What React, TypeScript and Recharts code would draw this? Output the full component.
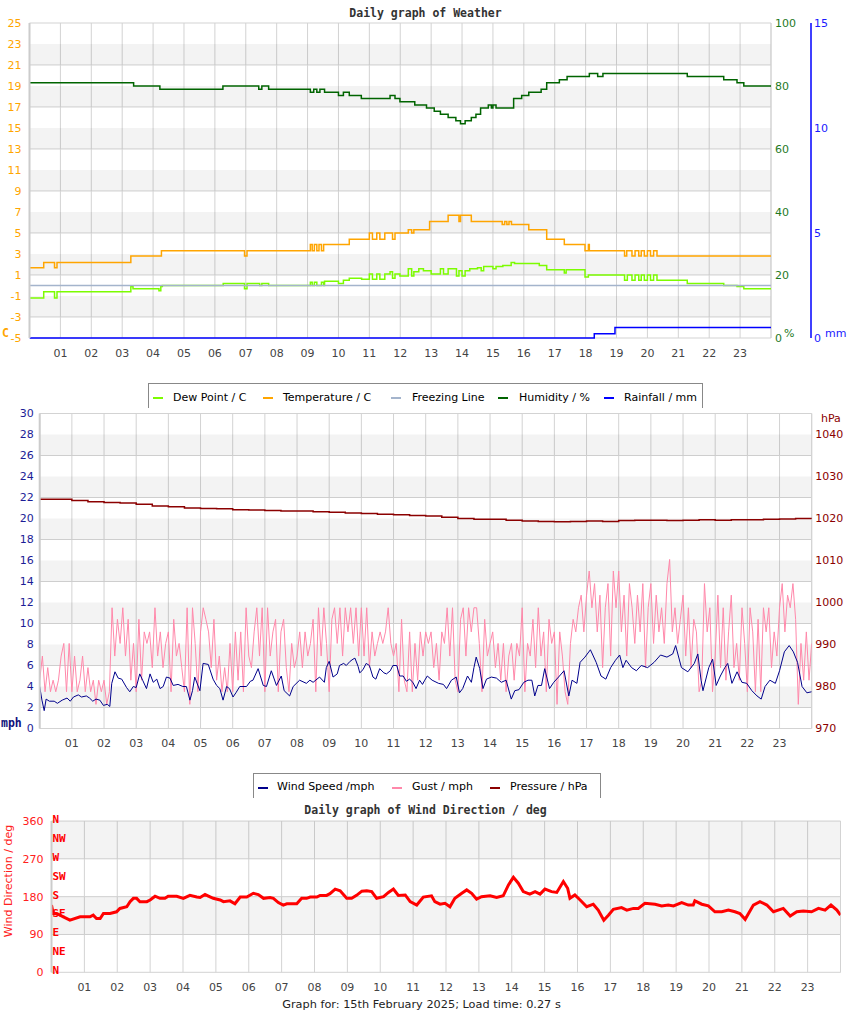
import React from 'react';
import { LineChart, Line, XAxis, YAxis, CartesianGrid, ReferenceLine, ReferenceArea } from 'recharts';

type Pt = [number, number];

const hourTicks = [1, 2, 3, 4, 5, 6, 7, 8, 9, 10, 11, 12, 13, 14, 15, 16, 17, 18, 19, 20, 21, 22, 23];
const tempTicks = [-5, -3, -1, 1, 3, 5, 7, 9, 11, 13, 15, 17, 19, 21, 23, 25];
const humTicks = [0, 20, 40, 60, 80, 100];
const rainTicks = [0, 5, 10, 15];
const speedTicks = [0, 2, 4, 6, 8, 10, 12, 14, 16, 18, 20, 22, 24, 26, 28, 30];
const pressTicks = [970, 980, 990, 1000, 1010, 1020, 1030, 1040];
const dirTicks = [0, 90, 180, 270, 360];
const compassTicks = [0, 45, 90, 135, 180, 225, 270, 315, 360];
const compassNames = ['N', 'NE', 'E', 'SE', 'S', 'SW', 'W', 'NW', 'N'];

// shaded bands of each panel
const tempBands: Pt[] = [[-3, -1], [1, 3], [5, 7], [9, 11], [13, 15], [17, 19], [21, 23]];
const speedBands: Pt[] = [[2, 4], [6, 8], [10, 12], [14, 16], [18, 20], [22, 24], [26, 28]];
const dirBands: Pt[] = [[90, 180], [270, 360]];

// step series: [hour, value] at each change
const humidity: Pt[] = [
  [0, 81], [3.37, 80], [4.22, 79], [6.26, 80], [7.42, 79], [7.52, 80], [7.74, 79], [9.09, 78], [9.2, 79],
  [9.3, 78], [9.4, 79], [9.55, 78], [10, 77], [10.16, 78], [10.35, 77], [10.74, 76], [11.67, 77], [11.83, 76],
  [11.99, 75], [12.47, 74], [12.85, 73], [13.1, 72], [13.3, 71], [13.55, 70], [13.8, 69], [13.95, 68],
  [14.1, 69], [14.3, 70], [14.45, 71], [14.6, 73], [14.85, 74], [14.95, 73], [15.0, 74], [15.1, 73],
  [15.67, 76], [15.93, 77], [16.16, 78], [16.56, 79], [16.74, 81], [17.15, 82], [17.4, 83], [18.12, 84],
  [18.39, 83], [18.56, 84], [21.29, 83], [22.47, 82], [22.9, 81], [23.12, 80], [24, 80],
];

const temperature: Pt[] = [
  [0, 1.7], [0.46, 2.2], [0.81, 1.7], [0.89, 2.2], [3.28, 2.8], [4.27, 3.3], [6.96, 2.8], [7.04, 3.3],
  [9.09, 3.9], [9.15, 3.3], [9.22, 3.9], [9.3, 3.3], [9.37, 3.9], [9.45, 3.3], [9.52, 3.9], [10.35, 4.4],
  [11.0, 5.0], [11.1, 4.4], [11.24, 5.0], [11.34, 4.4], [11.5, 5.0], [11.75, 4.4], [11.83, 5.0],
  [12.26, 5.3], [12.37, 5.0], [12.44, 5.3], [12.95, 6.1], [13.55, 6.7], [13.9, 6.1], [13.95, 6.7],
  [14.3, 6.1], [15.3, 5.8], [15.38, 6.1], [15.45, 5.8], [15.52, 6.1], [15.6, 5.8], [16.16, 5.3],
  [16.74, 4.4], [17.31, 3.9], [17.98, 3.3], [18.09, 3.9], [18.12, 3.3], [19.26, 2.8], [19.33, 3.3],
  [19.5, 2.8], [19.6, 3.3], [19.72, 2.8], [19.8, 3.3], [19.9, 2.8], [20.0, 3.3], [20.1, 2.8], [20.2, 3.3],
  [20.31, 2.8], [24, 2.8],
];

const dewPoint: Pt[] = [
  [0, -1.2], [0.46, -0.6], [0.81, -1.2], [0.89, -0.6], [3.28, -0.1], [3.35, -0.3], [4.19, -0.5], [4.25, -0.1],
  [4.3, 0], [6.27, 0.2], [6.96, -0.3], [7.04, 0.2], [7.45, 0], [7.52, 0.2], [7.74, 0], [9.09, 0.3], [9.15, 0],
  [9.22, 0.3], [9.3, 0], [9.45, 0.3], [9.52, 0], [9.55, 0.4], [10.0, 0.2], [10.16, 0.5], [10.35, 0.7],
  [10.75, 0.6], [11.0, 1.1], [11.1, 0.6], [11.24, 1.1], [11.34, 0.6], [11.5, 1.1], [11.67, 1.3], [11.75, 0.7],
  [11.83, 1.1], [11.99, 0.9], [12.26, 1.6], [12.37, 0.9], [12.44, 1.3], [12.6, 1.6], [12.75, 1.4], [13.0, 1.1],
  [13.3, 1.6], [13.4, 1.1], [13.55, 1.6], [13.82, 0.9], [13.9, 1.4], [14.0, 0.9], [14.1, 1.4], [14.25, 1.6],
  [14.5, 1.7], [14.62, 1.4], [14.7, 1.8], [15.0, 1.6], [15.1, 1.8], [15.32, 1.9], [15.59, 2.2], [15.7, 2.1],
  [16.5, 1.9], [16.74, 1.5], [17.31, 1.2], [17.37, 1.5], [17.98, 0.8], [18.09, 1.0], [19.26, 0.5], [19.35, 1.0],
  [19.5, 0.5], [19.6, 1.0], [19.72, 0.5], [19.8, 1.0], [19.9, 0.5], [20.0, 1.0], [20.1, 0.5], [20.2, 1.0],
  [20.31, 0.5], [21.29, 0.2], [22.47, 0], [22.9, -0.1], [23.12, -0.3], [24, -0.3],
];

const freezing: Pt[] = [[0, 0], [24, 0]];
const rainfall: Pt[] = [[0, 0], [18.28, 0.2], [18.95, 0.5], [24, 0.5]];

const windSpeed: Pt[] = [
  [0, 4.0], [0.07, 2.7], [0.14, 1.7], [0.2, 2.8], [0.3, 2.6], [0.45, 2.6], [0.55, 2.4], [0.7, 2.7], [0.85, 2.9],
  [0.95, 2.6], [1.05, 3.0], [1.2, 3.2], [1.3, 3.0], [1.45, 3.1], [1.55, 2.9], [1.65, 2.6], [1.75, 2.8], [1.87, 2.7],
  [1.98, 2.2], [2.1, 2.3], [2.18, 2.1], [2.24, 4.3], [2.34, 5.4], [2.44, 4.8], [2.55, 4.7], [2.7, 3.9], [2.8, 3.5],
  [2.91, 4.0], [3.0, 3.9], [3.11, 5.2], [3.2, 4.6], [3.32, 3.8], [3.43, 5.2], [3.53, 4.4], [3.64, 4.7], [3.74, 3.8],
  [3.84, 4.0], [3.94, 4.9], [4.05, 4.8], [4.15, 4.1], [4.3, 4.2], [4.45, 4.0], [4.56, 4.0], [4.67, 2.7], [4.75, 3.6],
  [4.82, 4.9], [4.98, 3.6], [5.08, 6.2], [5.24, 6.1], [5.39, 4.7], [5.5, 4.1], [5.6, 3.8], [5.7, 2.7], [5.81, 4.0],
  [5.9, 3.8], [6.01, 3.0], [6.1, 3.4], [6.22, 4.0], [6.43, 4.0], [6.55, 4.5], [6.63, 4.6], [6.79, 5.7], [6.95, 4.1],
  [7.05, 4.0], [7.2, 5.5], [7.36, 4.1], [7.51, 5.0], [7.6, 3.6], [7.77, 3.1], [7.88, 4.0], [8.08, 4.6], [8.29, 4.3],
  [8.4, 4.6], [8.5, 4.4], [8.7, 4.9], [8.85, 4.4], [8.91, 5.8], [9.0, 6.4], [9.12, 4.9], [9.25, 5.2], [9.32, 6.0],
  [9.45, 6.2], [9.53, 6.0], [9.65, 6.4], [9.74, 6.6], [9.8, 6.7], [9.9, 5.9], [9.95, 5.3], [10.05, 5.6], [10.15, 6.2],
  [10.25, 6.0], [10.36, 4.9], [10.45, 4.7], [10.57, 5.7], [10.7, 5.3], [10.78, 5.2], [10.9, 5.5], [10.98, 6.0],
  [11.1, 6.0], [11.19, 5.0], [11.3, 5.0], [11.4, 4.5], [11.5, 4.7], [11.6, 4.4], [11.7, 3.8], [11.81, 4.6],
  [11.9, 4.2], [11.97, 4.6], [12.05, 5.0], [12.2, 4.6], [12.4, 4.3], [12.55, 4.2], [12.65, 3.8], [12.8, 4.6],
  [12.95, 4.9], [13.05, 3.4], [13.15, 3.8], [13.3, 5.0], [13.42, 4.4], [13.5, 5.8], [13.57, 6.8], [13.68, 5.7],
  [13.78, 3.8], [13.89, 4.7], [14.04, 4.9], [14.2, 4.8], [14.35, 4.4], [14.5, 4.6], [14.66, 2.8], [14.77, 3.6],
  [14.9, 3.7], [15.05, 4.4], [15.18, 4.6], [15.3, 4.6], [15.39, 3.1], [15.49, 4.1], [15.6, 4.1], [15.7, 5.7],
  [15.85, 3.8], [15.98, 4.4], [16.13, 4.9], [16.3, 5.5], [16.45, 3.1], [16.55, 4.6], [16.7, 4.3], [16.8, 6.3],
  [16.95, 6.8], [17.12, 7.5], [17.3, 6.3], [17.45, 5.0], [17.6, 4.7], [17.75, 5.8], [17.9, 6.5], [18.03, 7.0],
  [18.13, 5.8], [18.23, 6.5], [18.4, 5.8], [18.55, 5.5], [18.7, 6.0], [18.9, 5.8], [19.1, 6.3], [19.3, 7.0],
  [19.5, 6.8], [19.68, 7.1], [19.77, 7.9], [19.95, 5.8], [20.15, 5.4], [20.35, 6.2], [20.46, 7.1], [20.56, 4.6],
  [20.62, 3.6], [20.8, 5.8], [20.92, 6.6], [21.03, 4.1], [21.16, 5.0], [21.3, 5.8], [21.39, 6.2], [21.52, 4.3],
  [21.68, 5.4], [21.83, 4.4], [21.98, 4.3], [22.14, 3.6], [22.3, 3.1], [22.43, 2.8], [22.55, 4.0], [22.7, 4.6],
  [22.87, 4.3], [23.0, 5.5], [23.15, 7.3], [23.3, 7.9], [23.43, 7.3], [23.56, 6.3], [23.7, 4.0], [23.85, 3.4],
  [24.0, 3.5],
];

// gust every 5 minutes, mph (one row per hour)
const gust: number[] = [
  4.6, 6.9, 3.5, 5.8, 3.5, 4.6, 3.5, 4.6, 6.9, 8.1, 3.5, 8.1,
  3.5, 6.9, 3.5, 4.6, 6.9, 3.5, 5.8, 3.5, 4.6, 2.3, 4.6, 3.5,
  4.6, 2.3, 3.5, 11.5, 6.9, 10.4, 8.1, 11.5, 6.9, 10.4, 4.6, 8.1,
  3.5, 10.4, 4.6, 9.2, 8.1, 9.2, 5.8, 11.5, 6.9, 9.2, 5.8, 8.1,
  9.2, 3.5, 10.4, 6.9, 8.1, 5.8, 3.5, 11.5, 2.3, 11.5, 8.1, 3.5,
  9.2, 11.5, 10.4, 9.2, 5.8, 10.4, 4.6, 6.9, 3.5, 5.8, 3.5, 8.1,
  3.5, 9.2, 4.6, 9.2, 3.5, 11.5, 6.9, 5.8, 9.2, 11.5, 6.9, 11.5,
  3.5, 11.5, 6.9, 9.2, 10.4, 3.5, 9.2, 10.4, 5.8, 3.5, 8.1, 5.8,
  6.9, 9.2, 5.8, 9.2, 6.9, 8.1, 10.4, 3.5, 11.5, 6.9, 11.5, 8.1,
  3.5, 10.4, 11.5, 8.1, 11.5, 6.9, 11.5, 9.2, 11.5, 8.1, 11.5, 6.9,
  11.5, 6.9, 11.5, 5.8, 9.2, 6.9, 8.1, 9.2, 8.1, 9.2, 11.5, 8.1,
  6.9, 8.1, 3.5, 10.4, 4.6, 3.5, 9.2, 3.5, 8.1, 4.6, 9.2, 6.9,
  9.2, 8.1, 9.2, 5.8, 8.1, 4.6, 9.2, 8.1, 11.5, 6.9, 11.5, 4.6,
  3.5, 10.4, 11.5, 6.9, 11.5, 9.2, 11.5, 11.5, 8.1, 3.5, 10.4, 6.9,
  8.1, 9.2, 5.8, 8.1, 4.6, 8.1, 3.5, 6.9, 8.1, 4.6, 8.1, 6.9,
  11.5, 3.5, 8.1, 6.9, 10.4, 5.8, 11.5, 6.9, 9.2, 3.5, 10.4, 8.1,
  9.2, 2.3, 9.2, 6.9, 3.5, 2.3, 8.1, 10.4, 9.2, 11.5, 12.7, 9.2,
  12.7, 15.0, 11.5, 13.8, 9.2, 12.7, 5.8, 11.5, 13.8, 6.9, 15.0, 11.5,
  15.0, 9.2, 12.7, 6.9, 13.8, 11.5, 8.1, 12.7, 9.2, 13.8, 5.8, 11.5,
  13.8, 8.1, 12.7, 9.2, 11.5, 8.1, 13.8, 16.1, 9.2, 11.5, 8.1, 10.4,
  12.7, 6.9, 11.5, 5.8, 10.4, 9.2, 3.5, 4.6, 13.8, 9.2, 11.5, 3.5,
  6.9, 12.7, 5.8, 11.5, 4.6, 9.2, 12.7, 5.8, 8.1, 4.6, 11.5, 8.1,
  3.5, 11.5, 9.2, 3.5, 10.4, 3.5, 11.5, 9.2, 11.5, 5.8, 9.2, 6.9,
  11.5, 13.8, 9.2, 12.7, 11.5, 13.8, 10.4, 2.3, 8.1, 4.6, 9.2, 4.6,
  8.1,
];

const pressure: Pt[] = [
  [0, 1024.6], [0.5, 1024.6], [1, 1024.3], [1.5, 1024.0], [2, 1023.8], [2.5, 1023.7], [3, 1023.4], [3.5, 1023.0],
  [4, 1022.8], [4.5, 1022.5], [5, 1022.4], [5.5, 1022.3], [6, 1022.1], [6.5, 1022.0], [7, 1021.9], [7.5, 1021.8],
  [8, 1021.8], [8.5, 1021.6], [9, 1021.5], [9.5, 1021.3], [10, 1021.2], [10.5, 1021.0], [11, 1020.9], [11.5, 1020.7],
  [12, 1020.6], [12.5, 1020.3], [13, 1020.0], [13.5, 1019.8], [14, 1019.8], [14.5, 1019.6], [15, 1019.4],
  [15.5, 1019.3], [16, 1019.2], [16.5, 1019.3], [17, 1019.4], [17.5, 1019.3], [18, 1019.5], [18.5, 1019.6],
  [19, 1019.6], [19.5, 1019.5], [20, 1019.6], [20.5, 1019.7], [21, 1019.6], [21.5, 1019.7], [22, 1019.7],
  [22.5, 1019.8], [23, 1019.9], [23.5, 1020.0], [24, 1019.9],
];

const windDir: Pt[] = [
  [0, 160], [0.05, 140], [0.16, 140], [0.36, 132], [0.56, 124], [0.87, 132], [1.17, 132], [1.27, 136], [1.37, 128],
  [1.48, 128], [1.58, 140], [1.78, 140], [1.98, 144], [2.08, 152], [2.29, 156], [2.39, 168], [2.49, 176], [2.59, 176],
  [2.69, 168], [2.9, 168], [3.0, 172], [3.15, 181], [3.3, 176], [3.45, 176], [3.55, 181], [3.81, 181], [4.01, 176],
  [4.21, 183], [4.42, 179], [4.52, 178], [4.67, 185], [4.92, 176], [5.13, 172], [5.23, 168], [5.43, 170], [5.58, 163],
  [5.74, 179], [5.94, 179], [6.14, 188], [6.29, 185], [6.45, 176], [6.65, 178], [6.75, 176], [6.9, 166], [7.05, 160],
  [7.16, 163], [7.46, 163], [7.61, 176], [7.76, 176], [7.87, 179], [8.07, 179], [8.17, 183], [8.37, 183], [8.47, 187],
  [8.63, 198], [8.78, 194], [8.98, 176], [9.13, 176], [9.28, 183], [9.44, 193], [9.59, 194], [9.74, 192], [9.89, 176],
  [10.1, 180], [10.25, 190], [10.4, 198], [10.55, 183], [10.76, 184], [10.91, 168], [11.11, 160], [11.31, 179],
  [11.56, 182], [11.66, 168], [11.82, 162], [11.97, 164], [12.12, 156], [12.27, 176], [12.48, 188], [12.63, 196],
  [12.78, 188], [12.93, 174], [13.08, 180], [13.34, 182], [13.54, 178], [13.74, 182], [13.9, 208], [14.05, 226],
  [14.2, 212], [14.35, 192], [14.55, 186], [14.71, 192], [14.86, 186], [15.01, 198], [15.21, 192], [15.37, 190],
  [15.57, 216], [15.7, 200], [15.77, 176], [15.92, 184], [16.08, 172], [16.28, 156], [16.48, 162], [16.63, 148],
  [16.8, 124], [16.94, 136], [17.09, 150], [17.34, 154], [17.5, 148], [17.7, 152], [17.85, 152], [18.05, 164],
  [18.36, 162], [18.56, 158], [18.76, 160], [18.92, 158], [19.17, 166], [19.37, 160], [19.52, 160], [19.57, 170],
  [19.78, 162], [19.98, 158], [20.18, 144], [20.39, 144], [20.59, 148], [20.79, 144], [20.94, 140], [21.1, 126],
  [21.35, 160], [21.55, 168], [21.76, 160], [21.96, 144], [22.26, 152], [22.47, 134], [22.67, 144], [22.87, 146],
  [23.12, 144], [23.33, 152], [23.53, 148], [23.71, 160], [23.89, 148], [24.0, 136],
];

const GRID = '#d3d3d3';
const MONO = '"DejaVu Sans Mono", monospace';

const rows = (pts: Pt[]) => pts.map(([h, v]) => ({ h, v }));
const gustRows = gust.map((v, i) => ({ h: i / 12, v }));
const fmtHour = (h: number) => String(h).padStart(2, '0');

const xAxisProps = {
  dataKey: 'h',
  type: 'number' as const,
  domain: [0, 24],
  ticks: hourTicks,
  tickFormatter: fmtHour,
  tickSize: 0,
  tickMargin: 11,
  axisLine: false,
  tick: { fill: '#444', fontSize: 11 },
  allowDataOverflow: true,
  height: 30,
};

const bands = (list: Pt[]) =>
  list.map(([a, b]) => (
    <ReferenceArea key={`b${a}`} y1={a} y2={b} fill="#000" fillOpacity={0.047} stroke="none" ifOverflow="visible" />
  ));

function WeatherChart() {
  return (
    <LineChart width={850} height={370} margin={{ top: 23, right: 0, bottom: 2, left: 0 }}>
      {bands(tempBands)}
      <CartesianGrid stroke={GRID} />
      <XAxis {...xAxisProps} />
      <YAxis domain={[-5, 25]} ticks={tempTicks} width={29.5} tickSize={0} tickMargin={8}
        axisLine={{ stroke: '#cccccc', strokeWidth: 2 }} tick={{ fill: '#ffa500', fontSize: 11 }} />
      <YAxis yAxisId="hum" orientation="right" domain={[0, 100]} ticks={humTicks} width={40} tickSize={0}
        tickMargin={4} axisLine={false} tick={{ fill: '#1f7a1f', fontSize: 11 }} />
      <YAxis yAxisId="rain" orientation="right" domain={[0, 15]} ticks={rainTicks} width={39} tickSize={0}
        tickMargin={3} axisLine={{ stroke: '#0000ff', strokeWidth: 1.5 }} tick={{ fill: '#1a1aff', fontSize: 11 }} />
      <ReferenceLine x={24} stroke={GRID} />
      <Line data={rows(dewPoint)} dataKey="v" type="stepAfter" stroke="#7cfc00" strokeWidth={1.5} dot={false} isAnimationActive={false} />
      <Line data={rows(temperature)} dataKey="v" type="stepAfter" stroke="#ffa500" strokeWidth={1.5} dot={false} isAnimationActive={false} />
      <Line data={rows(freezing)} dataKey="v" type="linear" stroke="#a4b4cc" strokeWidth={1.5} dot={false} isAnimationActive={false} />
      <Line data={rows(humidity)} yAxisId="hum" dataKey="v" type="stepAfter" stroke="#006400" strokeWidth={1.5} dot={false} isAnimationActive={false} />
      <Line data={rows(rainfall)} yAxisId="rain" dataKey="v" type="stepAfter" stroke="#0000ff" strokeWidth={1.5} dot={false} isAnimationActive={false} />
    </LineChart>
  );
}

function WindChart() {
  return (
    <LineChart width={850} height={360} margin={{ top: 13.5, right: 0, bottom: 2, left: 0 }}>
      {bands(speedBands)}
      <CartesianGrid stroke={GRID} />
      <XAxis {...xAxisProps} height={29.5} />
      <YAxis domain={[0, 30]} ticks={speedTicks} width={39.7} tickSize={0} tickMargin={6}
        axisLine={{ stroke: '#cccccc', strokeWidth: 2 }} tick={{ fill: '#1c1c96', fontSize: 11 }} />
      <YAxis yAxisId="p" orientation="right" domain={[970, 1045]} ticks={pressTicks} width={38.3} tickSize={0}
        tickMargin={3.5} axisLine={false} tick={{ fill: '#8b0000', fontSize: 11 }} />
      <ReferenceLine x={24} stroke={GRID} />
      <Line data={gustRows} dataKey="v" type="linear" stroke="#ff88aa" strokeWidth={1} dot={false} isAnimationActive={false} />
      <Line data={rows(windSpeed)} dataKey="v" type="linear" stroke="#00008b" strokeWidth={1} dot={false} isAnimationActive={false} />
      <Line data={rows(pressure)} yAxisId="p" dataKey="v" type="stepAfter" stroke="#8b0000" strokeWidth={1.5} dot={false} isAnimationActive={false} />
    </LineChart>
  );
}

function DirectionChart() {
  return (
    <LineChart width={850} height={217} margin={{ top: 21, right: 9.5, bottom: 14.7, left: 0 }}>
      {bands(dirBands)}
      <CartesianGrid stroke={GRID} />
      <XAxis {...xAxisProps} />
      <YAxis domain={[0, 360]} ticks={dirTicks} width={51.5} tickSize={0} tickMargin={8}
        axisLine={{ stroke: '#cccccc', strokeWidth: 2 }} tick={{ fill: '#ff2020', fontSize: 11 }} />
      <ReferenceLine x={24} stroke={GRID} />
      {compassTicks.map((a, i) => (
        <ReferenceLine key={`c${a}`} y={a} stroke="none" ifOverflow="visible"
          label={{ value: compassNames[i], position: 'insideLeft', offset: 1, dy: -2, fill: '#ff0000', fontSize: 11, fontWeight: 'bold', fontFamily: MONO }} />
      ))}
      <Line data={rows(windDir)} dataKey="v" type="linear" stroke="#ff0000" strokeWidth={3} dot={false} isAnimationActive={false} />
    </LineChart>
  );
}

const abs = (left: number, top: number, extra: React.CSSProperties = {}): React.CSSProperties => ({
  position: 'absolute', left, top, whiteSpace: 'nowrap', lineHeight: '14px', ...extra,
});

const Marker = ({ left, top, color }: { left: number; top: number; color: string }) => (
  <div style={{ position: 'absolute', left, top, width: 10, height: 2, background: color }} />
);

export default function App() {
  return (
    <div style={{ position: 'absolute', left: 0, top: 0, width: 850, height: 1017, background: '#fff', overflow: 'hidden', fontFamily: '"DejaVu Sans", sans-serif', fontSize: 11 }}>
      <div style={{ position: 'absolute', left: 0, top: 0 }}><WeatherChart /></div>
      <div style={{ position: 'absolute', left: 0, top: 400 }}><WindChart /></div>
      <div style={{ position: 'absolute', left: 0, top: 800 }}><DirectionChart /></div>

      <div style={abs(0, 6, { width: 851, textAlign: 'center', fontFamily: MONO, fontWeight: 'bold', fontSize: 11.5, color: '#333' })}>Daily graph of Weather</div>
      <div style={abs(2, 326, { fontFamily: MONO, fontWeight: 'bold', fontSize: 11.5, color: '#ffa500' })}>C</div>
      <div style={abs(784, 327, { color: '#1f7a1f' })}>%</div>
      <div style={abs(825, 327, { color: '#1a1aff' })}>mm</div>

      <div style={{ position: 'absolute', left: 148, top: 383, width: 553, height: 24, borderTop: '1px solid #888', borderLeft: '1px solid #888', borderRight: '1px solid #888', background: '#fff' }}>
        <Marker left={4} top={13} color="#7cfc00" />
        <div style={abs(24, 7)}>Dew Point / C</div>
        <Marker left={114} top={13} color="#ffa500" />
        <div style={abs(134, 7)}>Temperature / C</div>
        <Marker left={242} top={13} color="#a4b4cc" />
        <div style={abs(263, 7)}>Freezing Line</div>
        <Marker left={349} top={13} color="#006400" />
        <div style={abs(370, 7)}>Humidity / %</div>
        <Marker left={455} top={13} color="#0000ff" />
        <div style={abs(475, 7)}>Rainfall / mm</div>
      </div>

      <div style={abs(821, 412, { color: '#8b0000' })}>hPa</div>
      <div style={abs(1, 716, { fontFamily: MONO, fontWeight: 'bold', fontSize: 11.5, color: '#10107a' })}>mph</div>

      <div style={{ position: 'absolute', left: 253, top: 773, width: 346, height: 24, borderTop: '1px solid #888', borderLeft: '1px solid #888', borderRight: '1px solid #888', background: '#fff' }}>
        <Marker left={4} top={13} color="#00008b" />
        <div style={abs(23, 6)}>Wind Speed /mph</div>
        <Marker left={138} top={13} color="#ff88aa" />
        <div style={abs(158, 6)}>Gust / mph</div>
        <Marker left={236} top={13} color="#8b0000" />
        <div style={abs(256, 6)}>Pressure / hPa</div>
      </div>

      <div style={abs(0, 803, { width: 851, textAlign: 'center', fontFamily: MONO, fontWeight: 'bold', fontSize: 11.5, color: '#333' })}>Daily graph of Wind Direction / deg</div>
      <div style={abs(-61, 874, { width: 140, textAlign: 'center', color: '#ff2020', transform: 'rotate(-90deg)' })}>Wind Direction / deg</div>
      <div style={abs(0, 998, { width: 843, textAlign: 'center', fontSize: 11.3, color: '#222' })}>Graph for: 15th February 2025; Load time: 0.27 s</div>
    </div>
  );
}
